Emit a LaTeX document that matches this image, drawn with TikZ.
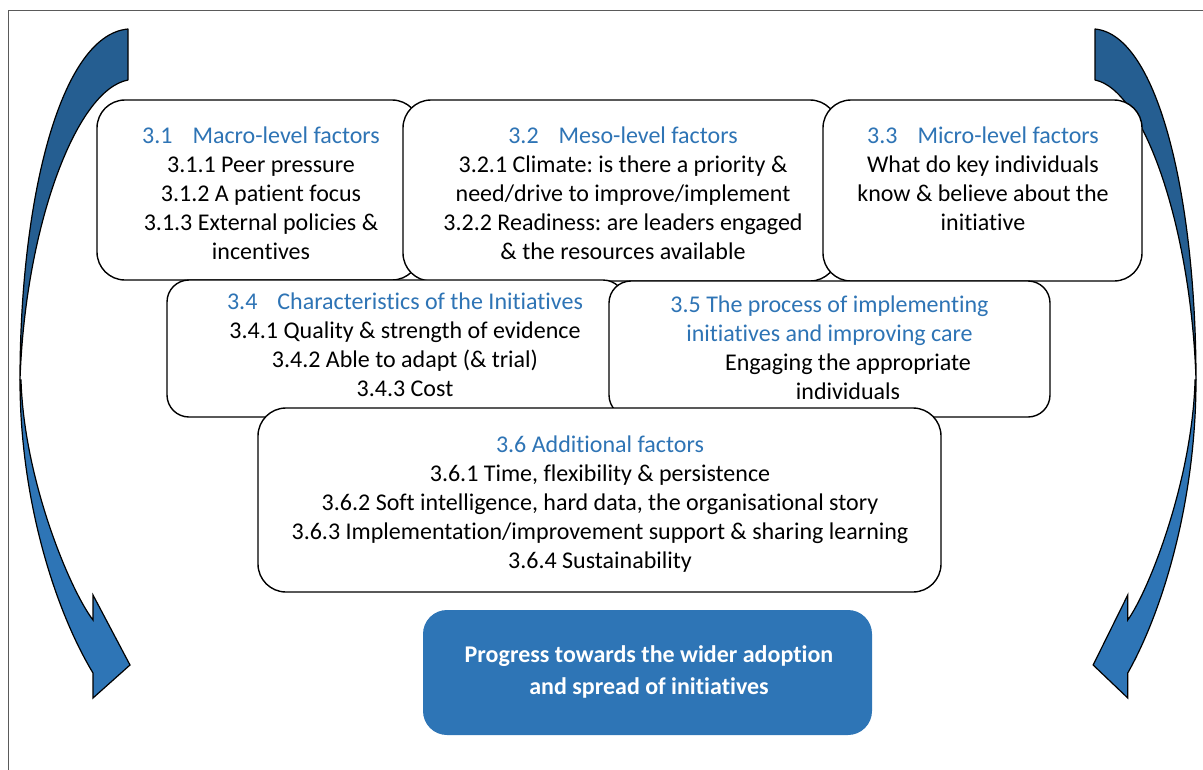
\documentclass[tikz,border=0pt]{standalone}
\usepackage{fontspec}
\setmainfont{Carlito}[Ligatures=NoCommon]
\frenchspacing
\definecolor{ttl}{HTML}{2E74B5}
\definecolor{arrowdark}{HTML}{255E91}
\definecolor{arrowlight}{HTML}{2E75B6}
\definecolor{progressblue}{HTML}{2E75B6}
\definecolor{framegray}{HTML}{5A5A5A}
\begin{document}
\begin{tikzpicture}[x=1pt,y=-1pt,
  box/.style={draw=black, line width=1.4pt, fill=white, rounded corners=28pt, inner sep=0pt},
  smallbox/.style={box, rounded corners=22pt},
  progressbox/.style={fill=progressblue, rounded corners=24pt, inner sep=0pt},
  txt/.style={align=center, inner sep=0pt, text=black, font=\fontsize{24}{29}\selectfont},
  ttltxt/.style={txt, text=ttl},
  progtxt/.style={align=center, inner sep=0pt, text=white, font=\fontsize{24}{32}\selectfont\bfseries},
  darkpart/.style={fill=arrowdark, draw=black, line width=1.2pt, line join=round},
  lightpart/.style={fill=arrowlight, draw=black, line width=1.2pt, line join=miter},
  frameline/.style={draw=framegray, line width=1.5pt}]
\useasboundingbox (0,0) rectangle (1203,769);
% outer frame
\draw[frameline] (8.5,800) -- (8.5,10.5) -- (1230,10.5);
% left curved arrow
\path[darkpart] (128,29) .. controls (60,35) and (20,200) .. (20,380)
   .. controls (25,230) and (75,90) .. (128,80) -- cycle;
\path[lightpart] (20,380) .. controls (20,500) and (55,610) .. (93,673)
   -- (93,698) -- (130,665) -- (93,595) -- (93,620)
   .. controls (70,590) and (24,480) .. (21,380) -- cycle;
% right curved arrow (mirrored)
\begin{scope}[xshift=1214.7pt, xscale=-0.935]
\path[darkpart] (128,29) .. controls (60,35) and (20,200) .. (20,380)
   .. controls (25,230) and (75,90) .. (128,80) -- cycle;
\path[lightpart] (20,380) .. controls (20,500) and (55,610) .. (93,673)
   -- (93,698) -- (130,665) -- (93,595) -- (93,620)
   .. controls (70,590) and (24,480) .. (21,380) -- cycle;
\end{scope}
% 3.1
\node[box, minimum width=323pt, minimum height=180pt] (b31) at (258.5,190) {};
\node[txt] (t31) at (261,193) {\textcolor{ttl}{3.1\hspace{20pt}Macro-level factors}\\3.1.1 Peer pressure\\3.1.2 A patient focus\\3.1.3 External policies \&\\incentives};
% 3.2
\node[box, minimum width=435pt, minimum height=181pt] (b32) at (620.5,190.5) {};
\node[txt] (t32) at (623,193) {\textcolor{ttl}{3.2\hspace{20pt}Meso-level factors}\\3.2.1 Climate: is there a priority \&\\need/drive to improve/implement\\3.2.2 Readiness: are leaders engaged\\\& the resources available};
% 3.3
\node[box, minimum width=319pt, minimum height=181pt] (b33) at (982.5,190.5) {};
\node[txt] (t33) at (983,178.5) {\textcolor{ttl}{3.3\hspace{20pt}Micro-level factors}\\What do key individuals\\know \& believe about the\\initiative};
% 3.4
\node[smallbox, minimum width=458pt, minimum height=137pt] (b34) at (396,348.5) {};
\node[txt] (t34) at (405,344.5) {\textcolor{ttl}{3.4\hspace{20pt}Characteristics of the Initiatives}\\3.4.1 Quality \& strength of evidence\\3.4.2 Able to adapt (\& trial)\\3.4.3 Cost};
% 3.5
\node[smallbox, minimum width=441pt, minimum height=136pt] (b35) at (829.5,349) {};
\node[ttltxt] (t35a) at (829.5,320.5) {3.5 The process of implementing\\initiatives and improving care};
\node[txt] (t35b) at (848,377) {Engaging the appropriate\\individuals};
% 3.6
\node[box, minimum width=683pt, minimum height=184pt] (b36) at (599.5,500) {};
\node[txt] (t36) at (600,504) {\textcolor{ttl}{3.6 Additional factors}\\3.6.1 Time, flexibility \& persistence\\3.6.2 Soft intelligence, hard data, the organisational story\\3.6.3 Implementation/improvement support \& sharing learning\\3.6.4 Sustainability};
% progress box
\node[progressbox, minimum width=449pt, minimum height=125pt] (bp) at (647.5,672.5) {};
\node[progtxt] (tp) at (649,672) {Progress towards the wider adoption\\and spread of initiatives};
\end{tikzpicture}
\end{document}
